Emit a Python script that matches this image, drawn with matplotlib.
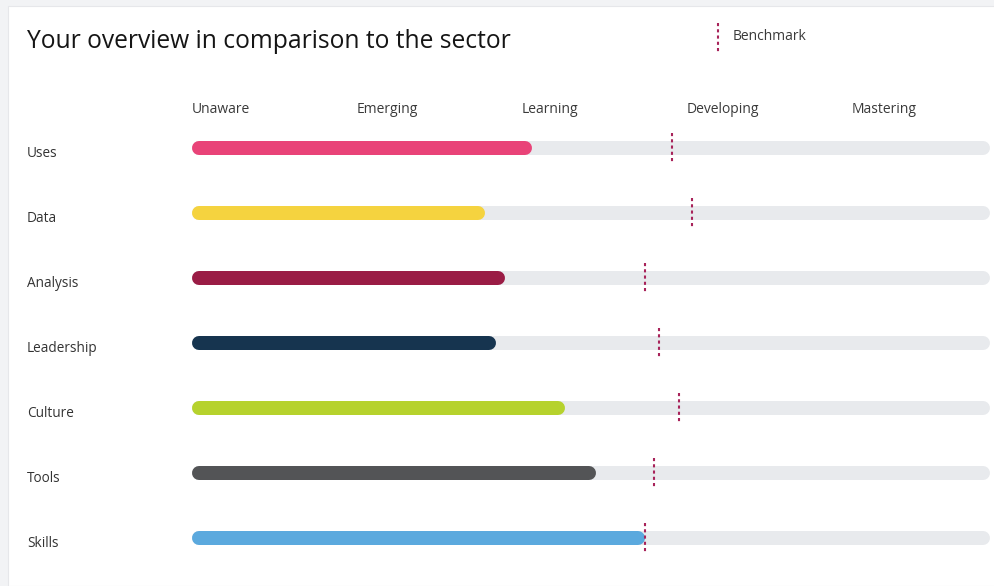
import matplotlib
matplotlib.use("Agg")
import matplotlib.pyplot as plt
from matplotlib.patches import Rectangle
from matplotlib import transforms

plt.rcParams['font.family'] = ['Open Sans', 'DejaVu Sans']

# Scores and sector benchmark on a 0-100 scale
categories = ["Uses", "Data", "Analysis", "Leadership", "Culture", "Tools", "Skills"]
scores = [42.6, 36.7, 39.2, 38.1, 46.7, 50.6, 56.8]
benchmarks = [60.2, 62.7, 56.8, 58.5, 61.0, 57.9, 56.8]
levels = ["Unaware", "Emerging", "Learning", "Developing", "Mastering"]
level_positions = [0, 20.68, 41.35, 62.03, 82.71]
colors = ["#e94378", "#f5d33f", "#9a1c45", "#16344f", "#b6d22d", "#535456", "#5ba9de"]

W, H, DPI = 995, 586, 100
fig = plt.figure(figsize=(W / DPI, H / DPI), dpi=DPI)
fig.patch.set_facecolor("#f2f3f5")

# white card
card = Rectangle((8 / W, 0), 1.0, 1 - 6 / H, transform=fig.transFigure,
                 facecolor="white", edgecolor="#e6e7ea", linewidth=0.8, zorder=0)
fig.add_artist(card)

track_left, track_right = 192, 990
row_top, row_step = 148, 65
n = len(categories)
ax_top = row_top - row_step / 2
ax_bottom = ax_top + n * row_step
ax = fig.add_axes([track_left / W, 1 - ax_bottom / H,
                   (track_right - track_left) / W, (ax_bottom - ax_top) / H])
ax.set_xlim(0, 100)
ax.set_ylim(n - 0.5, -0.5)
ax.axis("off")
ax.patch.set_visible(False)

bar_px = 14
lw_pt = bar_px * 72 / DPI
r = (bar_px / 2) / (track_right - track_left) * 100  # cap radius in data units

bench_color = "#a8235a"
bench_style = dict(color=bench_color, lw=1.5, linestyle=(0, (1.5, 1.5)),
                   dash_capstyle="butt")

for i, (v, b, c) in enumerate(zip(scores, benchmarks, colors)):
    ax.plot([r, 100 - r], [i, i], color="#e8eaed", lw=lw_pt,
            solid_capstyle="round", zorder=1)
    ax.plot([r, v - r], [i, i], color=c, lw=lw_pt,
            solid_capstyle="round", zorder=2)
    ax.plot([b, b], [i - 0.23, i + 0.23], zorder=3, **bench_style)

# level headers
for lab, x in zip(levels, level_positions):
    ax.text(x, -0.585, lab, ha="left", va="center", fontsize=10,
            color="#3a3a3a", clip_on=False)

# category labels
blend = transforms.blended_transform_factory(fig.transFigure, ax.transData)
for i, cat in enumerate(categories):
    ax.text(27 / W, i + 0.09, cat, transform=blend, ha="left", va="center",
            fontsize=9.8, color="#333333")

# title
fig.text(27 / W, 1 - 41 / H, "Your overview in comparison to the sector",
         ha="left", va="center", fontsize=17.7, color="#151515")

# legend
fig.add_artist(plt.Line2D([718 / W, 718 / W], [1 - 23 / H, 1 - 53 / H],
                          transform=fig.transFigure, **bench_style))
fig.text(733 / W, 1 - 36 / H, "Benchmark", ha="left", va="center",
         fontsize=10, color="#3a3a3a")

fig.savefig("out.png", dpi=DPI, facecolor=fig.get_facecolor())
